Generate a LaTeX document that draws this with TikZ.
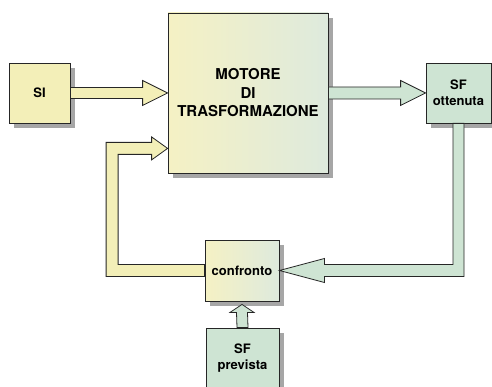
\documentclass[tikz,border=0pt]{standalone}
\usepackage{fontspec}
\setmainfont{TeX Gyre Heros}
\usepackage{tikz}
\usetikzlibrary{calc}
\usetikzlibrary{shadows}
\definecolor{myellow}{RGB}{243, 239, 184}
\definecolor{mgreen}{RGB}{206, 228, 211}
\definecolor{mleft}{RGB}{245, 241, 196}
\definecolor{mright}{RGB}{222, 234, 221}
\tikzset{box/.style = {draw=black!85, line width=0.8pt, inner sep=0pt,
                       align=center, font=\bfseries\fontsize{13}{16}\selectfont,
                       drop shadow={shadow xshift=5pt, shadow yshift=-5pt,
                                    fill=black!35, opacity=1}},
         ybox/.style = {box, fill=myellow},
         gbox/.style = {box, fill=mgreen},
         mbox/.style = {box, left color=mleft, right color=mright},
         yarrow/.style = {draw=black!85, line width=0.8pt, fill=myellow, line join=miter},
         garrow/.style = {draw=black!85, line width=0.8pt, fill=mgreen, line join=miter}}

\begin{document}
\begin{tikzpicture}[x=1pt, y=-1pt]
    \useasboundingbox (0, 0) rectangle (492, 387);
    \node [ybox, minimum width=61pt, minimum height=60pt] (si) at (39.5, 93) {SI};
    \node [mbox, minimum width=160pt, minimum height=160pt, font=\bfseries\fontsize{15}{18.5}\selectfont] (motore) at (248, 93) {MOTORE\\DI\\TRASFORMAZIONE};
    \node [gbox, minimum width=65pt, minimum height=60pt] (sfott) at (458.5, 93) {SF\\ottenuta};
    \node [mbox, minimum width=74pt, minimum height=61pt] (confronto) at (242, 270.5) {confronto};
    \node [gbox, minimum width=73pt, minimum height=60pt] (sfprev) at (242.5, 358) {SF\\prevista};
    \coordinate (fb) at ($(motore.south west)+(0,-25)$);
    \coordinate (up) at ($(confronto.south)+(0,3)$);

    \draw [yarrow] ($(si.east)+(0,-5.5)$) -- ($(motore.west)+(-25,-5.5)$) -- ++(0,-7) -- (motore.west) -- ++(-25,12.5) -- ++(0,-7) -- ($(si.east)+(0,5.5)$) -- cycle;
    \draw [garrow] ($(motore.east)+(0,-6)$) -- ($(sfott.west)+(-25,-6)$) -- ++(0,-6.5) -- (sfott.west) -- ++(-25,12.5) -- ++(0,-6.5) -- ($(motore.east)+(0,6)$) -- cycle;
    \draw [garrow] ($(sfott.south)+(-5.5,0)$) |- ($(confronto.east)+(45,-6)$) -- ++(0,-6) -- (confronto.east) -- ++(45,12) -- ++(0,-6) -| ($(sfott.south)+(5.5,0)$) -- cycle;
    \draw [yarrow] ($(confronto.west)+(0,-6)$) -| ($(fb)+(-49.5,6)$) -- ($(fb)+(-16,6)$) -- ++(0,5.5) -- (fb) -- ++(-16,-11.5) -- ++(0,5.5) -| ($(confronto.west)+(-98.5,6)$) -- ($(confronto.west)+(0,6)$) -- cycle;
    \draw [garrow] ($(sfprev.north)+(-5.5,0)$) -- ($(up)+(-5.5,8)$) -- ++(-6.5,0) -- (up) -- ++(12,8) -- ++(-6.5,0) -- ($(sfprev.north)+(5.5,0)$) -- cycle;
  \end{tikzpicture}
\end{document}
